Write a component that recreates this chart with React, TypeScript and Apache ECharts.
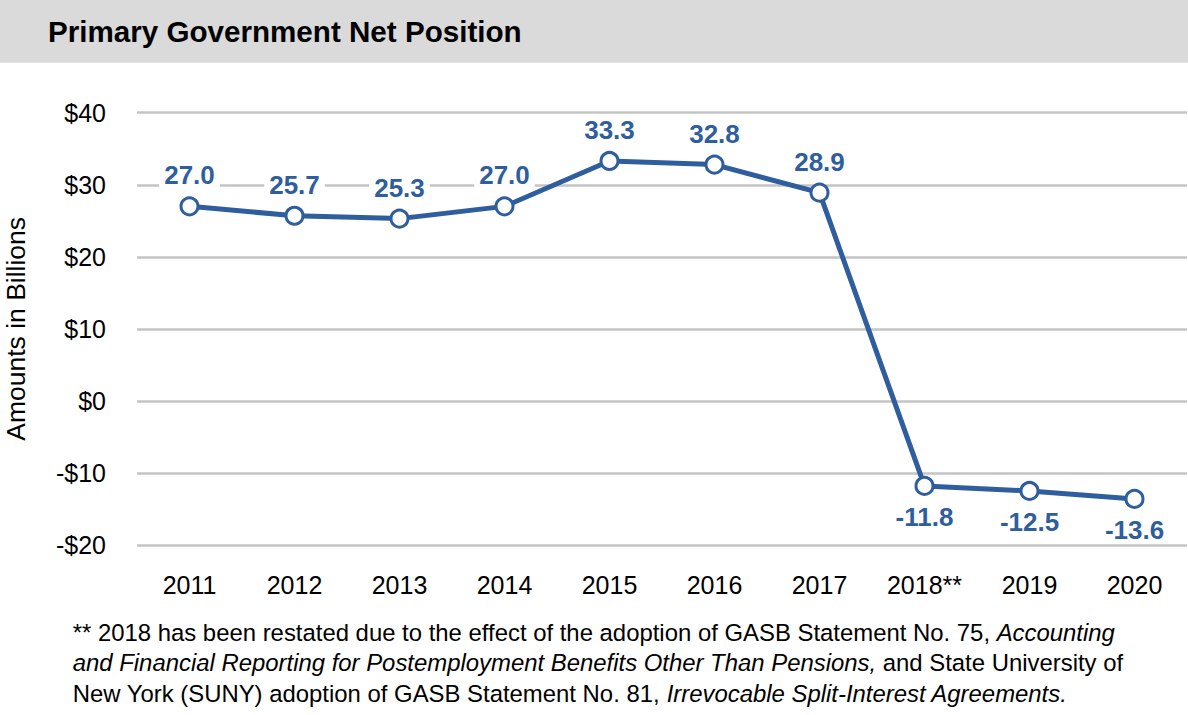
import React, { useEffect, useRef } from 'react';
import * as echarts from 'echarts';
import type { EChartsOption } from 'echarts';

const years = ['2011', '2012', '2013', '2014', '2015', '2016', '2017', '2018**', '2019', '2020'];
const netPosition = [27.0, 25.7, 25.3, 27.0, 33.3, 32.8, 28.9, -11.8, -12.5, -13.6];
const yTicks = [-20, -10, 0, 10, 20, 30, 40];

const BLUE = '#2F5E9E';
const FONT = '"Liberation Sans", Arial, Helvetica, sans-serif';

const footnoteLines = [
  '{n|** 2018 has been restated due to the effect of the adoption of GASB Statement No. 75, }{i|Accounting}',
  '{i|and Financial Reporting for Postemployment Benefits Other Than Pensions,}{n| and State University of}',
  '{n|New York (SUNY) adoption of GASB Statement No. 81, }{i|Irrevocable Split-Interest Agreements.}',
];

const NetPositionChart: React.FC = () => {
  const chartRef = useRef<HTMLDivElement>(null);

  useEffect(() => {
    document.body.style.margin = '0';
    if (!chartRef.current) return;
    const chart = echarts.init(chartRef.current, undefined, { renderer: 'svg' });

    const option: EChartsOption = {
      animation: false,
      backgroundColor: '#ffffff',
      textStyle: { fontFamily: FONT },
      grid: { left: 137, right: 1, top: 112.7, bottom: 170, outerBoundsMode: 'none' } as any,
      xAxis: {
        type: 'category',
        data: years,
        boundaryGap: true,
        axisLine: { show: false },
        axisTick: { show: false },
        axisLabel: { color: '#000', fontSize: 25, margin: 27, fontFamily: FONT },
      },
      yAxis: {
        type: 'value',
        min: yTicks[0],
        max: yTicks[yTicks.length - 1],
        interval: 10,
        name: 'Amounts in Billions',
        nameLocation: 'middle',
        nameGap: 108,
        nameTextStyle: { color: '#000', fontSize: 26.5, fontFamily: FONT },
        axisLine: { show: false },
        axisTick: { show: false },
        axisLabel: {
          color: '#000',
          fontSize: 25,
          margin: 31,
          fontFamily: FONT,
          formatter: (v: number) => (v < 0 ? '-$' + Math.abs(v) : '$' + v),
        },
        splitLine: { lineStyle: { color: '#c4c4c4', width: 2.5 } },
      },
      series: [
        {
          type: 'line',
          data: netPosition.map((v) => ({
            value: v,
            label: { position: v < 0 ? 'bottom' : 'top' },
          })),
          symbol: 'circle',
          symbolSize: 17,
          lineStyle: { color: BLUE, width: 5 },
          itemStyle: { color: '#ffffff', borderColor: BLUE, borderWidth: 3 },
          label: {
            show: true,
            distance: 8,
            color: BLUE,
            fontSize: 26,
            fontWeight: 'bold',
            fontFamily: FONT,
            backgroundColor: '#ffffff',
            padding: [0, 5],
            formatter: (p: any) => Number(p.value).toFixed(1),
          },
          z: 3,
        },
      ],
      graphic: [
        {
          type: 'rect',
          left: 0,
          top: 0,
          shape: { x: 0, y: 0, width: 1188, height: 62.7 },
          style: { fill: '#dadada' },
          z: -1,
        },
        {
          type: 'text',
          x: 48,
          y: 31,
          style: {
            text: 'Primary Government Net Position',
            fill: '#000',
            font: `bold 29.6px ${FONT}`,
            verticalAlign: 'middle',
          },
        },
        ...footnoteLines.map((line, i) => ({
          type: 'text' as const,
          x: 72.7,
          y: 632 + i * 30.5,
          style: {
            text: line,
            verticalAlign: 'middle' as const,
            rich: {
              n: { fontSize: 23.9, fontFamily: FONT, fill: '#000' },
              i: { fontSize: 23.9, fontFamily: FONT, fontStyle: 'italic' as const, fill: '#000' },
            },
          },
        })),
      ],
    };

    chart.setOption(option);
    return () => {
      chart.dispose();
    };
  }, []);

  return <div ref={chartRef} style={{ width: '1188px', height: '715px' }} />;
};

export default function App() {
  return <NetPositionChart />;
}
